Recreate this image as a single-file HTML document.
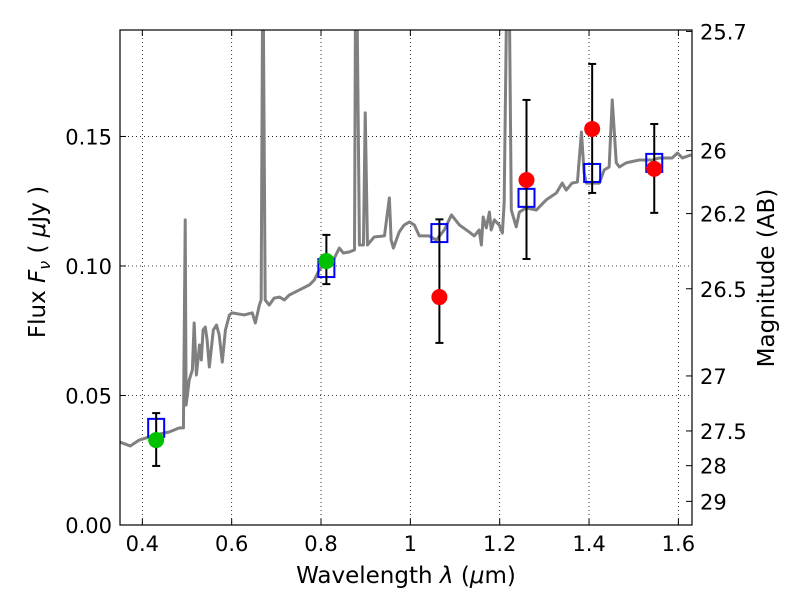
<!DOCTYPE html>
<html><head><meta charset="utf-8"><style>
html,body{margin:0;padding:0;background:#fff}
svg{display:block;font-family:"DejaVu Sans","Liberation Sans",sans-serif}
</style></head><body>
<svg id="chart" width="800" height="600" viewBox="0 0 800 600"></svg>
<script>
const specWave=[0.350,0.373,0.393,0.416,0.438,0.460,0.483,0.492,0.496,0.498,0.505,0.512,0.516,0.521,0.528,0.532,0.536,0.541,0.545,0.550,0.559,0.566,0.572,0.579,0.586,0.595,0.601,0.628,0.646,0.653,0.662,0.666,0.669,0.671,0.675,0.684,0.695,0.707,0.718,0.729,0.751,0.774,0.785,0.796,0.812,0.830,0.841,0.850,0.863,0.875,0.877,0.881,0.886,0.895,0.899,0.904,0.919,0.942,0.953,0.957,0.962,0.975,0.986,0.998,1.009,1.020,1.042,1.058,1.076,1.092,1.110,1.132,1.143,1.154,1.159,1.163,1.170,1.177,1.181,1.188,1.199,1.206,1.210,1.215,1.222,1.226,1.237,1.244,1.259,1.282,1.304,1.327,1.340,1.349,1.362,1.374,1.383,1.389,1.394,1.423,1.434,1.445,1.452,1.461,1.468,1.483,1.512,1.542,1.557,1.586,1.598,1.609,1.629];
const specFlux=[0.0320,0.0305,0.0328,0.0340,0.0351,0.0359,0.0375,0.0375,0.1178,0.0463,0.0560,0.0598,0.0780,0.0579,0.0695,0.0637,0.0753,0.0764,0.0714,0.0610,0.0753,0.0772,0.0734,0.0629,0.0753,0.0811,0.0819,0.0811,0.0819,0.0780,0.0849,0.0869,0.195,0.195,0.0869,0.0849,0.0876,0.0880,0.0869,0.0888,0.0907,0.0927,0.0946,0.0985,0.1012,0.1031,0.1069,0.1050,0.1054,0.1062,0.195,0.195,0.1081,0.1081,0.1591,0.1081,0.1112,0.1116,0.1263,0.1100,0.1069,0.1131,0.1158,0.1170,0.1158,0.1116,0.1116,0.1100,0.1139,0.1197,0.1158,0.1131,0.1116,0.1139,0.1081,0.1189,0.1147,0.1208,0.1139,0.1178,0.1158,0.1127,0.1243,0.195,0.195,0.1216,0.1151,0.1208,0.1224,0.1216,0.1255,0.1282,0.1320,0.1293,0.1320,0.1324,0.1517,0.1359,0.1320,0.1320,0.1371,0.1382,0.1641,0.1398,0.1382,0.1398,0.1409,0.1409,0.1417,0.1417,0.1436,0.1417,0.1429];
const greenWave=[0.431,0.812];
const greenFlux=[0.0328,0.1019];
const greenLo=[0.0228,0.093];
const greenHi=[0.0432,0.112];
const redWave=[1.065,1.260,1.407,1.546];
const redFlux=[0.088,0.1332,0.1529,0.1375];
const redLo=[0.0703,0.1027,0.1282,0.1205];
const redHi=[0.118,0.1641,0.178,0.1548];
const modelWave=[0.431,0.812,1.065,1.260,1.407,1.546];
const modelFlux=[0.0375,0.0992,0.1127,0.1263,0.1359,0.1398];
const xTicks=[0.4,0.6,0.8,1.0,1.2,1.4,1.6];
const xTickLabels=["0.4","0.6","0.8","1","1.2","1.4","1.6"];
const yTicks=[0,0.05,0.10,0.15];
const yTickLabels=["0.00","0.05","0.10","0.15"];
const magTicks=[25.7,26,26.2,26.5,27,27.5,28,29];

const L=120,R=692,T=30,B=525;
const xMin=0.35,xMax=1.6305,yMin=0,yMax=0.1911;
const sx=v=>L+(v-xMin)/(xMax-xMin)*(R-L);
const sy=v=>B-(v-yMin)/(yMax-yMin)*(B-T);
const magToFlux=m=>Math.pow(10,(23.9-m)/2.5);
const svg=document.getElementById('chart');
const NS='http://www.w3.org/2000/svg';
function mk(tag,attrs,parent){const e=document.createElementNS(NS,tag);for(const k in attrs)e.setAttribute(k,attrs[k]);(parent||svg).appendChild(e);return e;}

const clip=mk('clipPath',{id:'pc'});mk('rect',{x:L,y:T,width:R-L,height:B-T},clip);

const grid=mk('g',{});


xTicks.forEach(v=>{mk('line',{x1:sx(v),x2:sx(v),y1:T,y2:B,stroke:'#000','stroke-width':0.8,'stroke-dasharray':'1,3'},grid);});
yTicks.forEach(v=>{mk('line',{x1:L,x2:R,y1:sy(v),y2:sy(v),stroke:'#000','stroke-width':0.8,'stroke-dasharray':'1,3'},grid);});

const plot=mk('g',{'clip-path':'url(#pc)'});
const sp=mk('polyline',{points:specWave.map((w,i)=>sx(w)+','+sy(specFlux[i])).join(' '),fill:'none',stroke:'#808080','stroke-width':3,'stroke-linejoin':'round'},plot);



modelWave.forEach((w,i)=>{
  const r=mk('rect',{x:sx(w)-8,y:sy(modelFlux[i])-9,width:16,height:18,fill:'none',stroke:'#0000ff','stroke-width':2},plot);
  
  
});
function errbar(w,lo,hi,name){
  const g=mk('g',{},plot);
  
  
  mk('line',{x1:sx(w),x2:sx(w),y1:sy(lo),y2:sy(hi),stroke:'#000','stroke-width':2},g);
  mk('line',{x1:sx(w)-4,x2:sx(w)+4,y1:sy(lo),y2:sy(lo),stroke:'#000','stroke-width':2},g);
  mk('line',{x1:sx(w)-4,x2:sx(w)+4,y1:sy(hi),y2:sy(hi),stroke:'#000','stroke-width':2},g);
}
greenWave.forEach((w,i)=>{
  errbar(w,greenLo[i],greenHi[i],'green-errorbar');
  const c=mk('circle',{cx:sx(w),cy:sy(greenFlux[i]),r:8,fill:'#00c000'},plot);
  
  
});
redWave.forEach((w,i)=>{
  errbar(w,redLo[i],redHi[i],'red-errorbar');
  const c=mk('circle',{cx:sx(w),cy:sy(redFlux[i]),r:8,fill:'#ff0000'},plot);
  
  
});

const fr=mk('rect',{x:L,y:T,width:R-L,height:B-T,fill:'none',stroke:'#000','stroke-width':1.2});



xTicks.forEach((v,i)=>{
  mk('line',{x1:sx(v),x2:sx(v),y1:B,y2:B-6,stroke:'#000'});
  mk('line',{x1:sx(v),x2:sx(v),y1:T,y2:T+6,stroke:'#000'});
  const t=mk('text',{x:sx(v),y:B+26,'text-anchor':'middle','font-size':21});
  t.textContent=xTickLabels[i];
  
  
});
yTicks.forEach((v,i)=>{
  mk('line',{x1:L,x2:L+6,y1:sy(v),y2:sy(v),stroke:'#000'});
  const t=mk('text',{x:L-8,y:sy(v)+8,'text-anchor':'end','font-size':21});
  t.textContent=yTickLabels[i];
  
  
});
magTicks.forEach(m=>{
  const y=sy(magToFlux(m));
  mk('line',{x1:R,x2:R-6,y1:y,y2:y,stroke:'#000'});
  const t=mk('text',{x:R+8,y:y+8,'font-size':21});
  t.textContent=String(m);
  
  
});
</script>
<div style="position:absolute;left:0;top:0;width:800px;height:600px;pointer-events:none">
<svg width="800" height="600" style="position:absolute;left:0;top:0">
<text x="406" y="583" text-anchor="middle" font-size="23" font-family="DejaVu Sans, Liberation Sans, sans-serif">Wavelength  <tspan font-style="italic">λ</tspan> (<tspan font-style="italic">μ</tspan>m)</text>
<text transform="translate(45,262) rotate(-90)" text-anchor="middle" font-size="23" font-family="DejaVu Sans, Liberation Sans, sans-serif">Flux  <tspan font-style="italic">F</tspan><tspan font-style="italic" font-size="16" dy="5">ν</tspan><tspan dy="-5">  (  </tspan><tspan font-style="italic">μ</tspan>Jy )</text>
<text transform="translate(774,278) rotate(-90)" text-anchor="middle" font-size="23" font-family="DejaVu Sans, Liberation Sans, sans-serif">Magnitude (AB)</text>
</svg></div>
</body></html>
